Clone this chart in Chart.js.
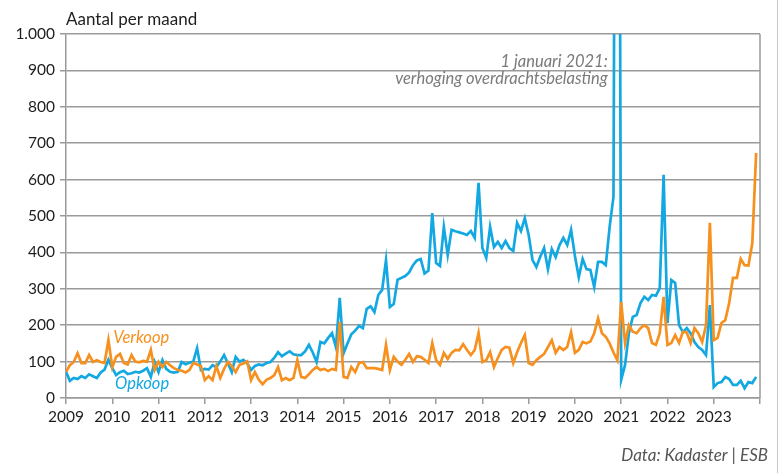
<!DOCTYPE html>
<html>
<head>
<meta charset="utf-8">
<script src="https://cdn.jsdelivr.net/npm/chart.js@4"></script>
<style>
  html, body { margin: 0; padding: 0; background: #fff; }
  canvas { display: block; }
</style>
</head>
<body>
<canvas id="grafiek" width="779" height="473"></canvas>
<script>
const jaren = [2009, 2010, 2011, 2012, 2013, 2014, 2015, 2016, 2017, 2018, 2019, 2020, 2021, 2022, 2023];
const yTicks = [0, 100, 200, 300, 400, 500, 600, 700, 800, 900, 1000];

// maandcijfers jan 2009 t/m dec 2023
const opkoop = [
  72, 47, 55, 52, 60, 55, 65, 60, 55, 70, 78, 105,
  82, 63, 71, 75, 66, 68, 72, 70, 75, 82, 58, 99,
  71, 104, 80, 72, 70, 72, 99, 93, 97, 100, 137, 77,
  80, 78, 90, 85, 100, 118, 95, 71, 113, 100, 105, 95,
  77, 88, 92, 90, 96, 99, 110, 126, 115, 122, 128, 120,
  118, 118, 128, 146, 125, 99, 154, 150, 165, 178, 140, 275,
  123, 150, 175, 185, 198, 192, 245, 252, 236, 283, 297, 379,
  250, 258, 325, 330, 335, 345, 365, 378, 382, 342, 350, 508,
  371, 363, 470, 393, 462, 458, 455, 452, 448, 459, 440, 591,
  412, 385, 470, 415, 429, 412, 431, 412, 404, 481, 459, 494,
  448, 379, 360, 388, 412, 354, 409, 387, 420, 440, 420, 462,
  390, 332, 382, 354, 352, 305, 374, 374, 365, 470, 553, 3500,
  50, 91, 178, 223, 228, 261, 278, 269, 283, 281, 302, 613,
  206, 324, 316, 200, 181, 192, 178, 154, 140, 132, 118, 255,
  30, 41, 44, 58, 52, 36, 36, 47, 27, 44, 41, 58
];

const verkoop = [
  72, 90, 99, 123, 96, 96, 118, 99, 104, 99, 96, 159,
  85, 113, 121, 96, 92, 118, 100, 98, 102, 100, 132, 77,
  100, 85, 99, 90, 82, 77, 75, 70, 77, 96, 92, 88,
  49, 60, 49, 88, 55, 80, 99, 88, 71, 91, 95, 101,
  49, 71, 50, 38, 50, 55, 62, 85, 49, 55, 49, 55,
  104, 58, 55, 65, 77, 85, 77, 80, 74, 80, 77, 209,
  58, 55, 85, 71, 96, 99, 82, 82, 82, 80, 77, 146,
  77, 113, 100, 91, 105, 121, 99, 115, 113, 105, 96, 151,
  104, 91, 124, 107, 124, 132, 131, 148, 132, 118, 132, 179,
  99, 104, 126, 85, 110, 132, 140, 138, 96, 126, 151, 173,
  96, 91, 104, 113, 121, 140, 159, 124, 140, 132, 140, 181,
  124, 132, 154, 150, 155, 178, 219, 178, 168, 150, 125, 104,
  264, 151, 200, 182, 178, 192, 200, 192, 151, 146, 178, 278,
  146, 151, 173, 151, 182, 180, 151, 192, 178, 154, 200, 481,
  159, 165, 206, 214, 261, 330, 330, 382, 365, 364, 425, 673
];

const blauw = '#13a8e2';
const oranje = '#f6901e';
const grijs = '#9a9a9a';
const lettertype = 'Lato, "Open Sans", sans-serif';

function naarPunten(reeks) {
  return reeks.map((v, i) => ({ x: jaren[0] + i / 12, y: v }));
}

const teksten = {
  id: 'teksten',
  afterDraw(chart) {
    const ctx = chart.ctx;
    const area = chart.chartArea;
    const x = chart.scales.x;
    const y = chart.scales.y;
    ctx.save();

    // rechterrand van het plotvlak
    ctx.strokeStyle = grijs;
    ctx.lineWidth = 1.5;
    ctx.beginPath();
    ctx.moveTo(area.right, area.top);
    ctx.lineTo(area.right, area.bottom);
    ctx.stroke();

    ctx.strokeStyle = '#c8c8c8';
    ctx.lineWidth = 1;
    ctx.beginPath();
    ctx.moveTo(777.5, 0);
    ctx.lineTo(777.5, 473);
    ctx.stroke();

    ctx.fillStyle = '#1e1e1e';
    ctx.font = '17px ' + lettertype;
    ctx.textAlign = 'left';
    ctx.textBaseline = 'alphabetic';
    ctx.fillText('Aantal per maand', area.left, 25);

    ctx.fillStyle = '#7a7a7a';
    ctx.font = 'italic 16.5px ' + lettertype;
    ctx.textAlign = 'right';
    ctx.fillText('1 januari 2021:', x.getPixelForValue(2020.71), y.getPixelForValue(910));
    ctx.fillText('verhoging overdrachtsbelasting', x.getPixelForValue(2020.71), y.getPixelForValue(862));

    ctx.textAlign = 'left';
    ctx.font = 'italic 16.5px ' + lettertype;
    ctx.fillStyle = oranje;
    ctx.fillText('Verkoop', x.getPixelForValue(2010.02), y.getPixelForValue(150));
    ctx.fillStyle = blauw;
    ctx.fillText('Opkoop', x.getPixelForValue(2010.06), y.getPixelForValue(24));

    ctx.fillStyle = '#555';
    ctx.font = 'italic 17px ' + lettertype;
    ctx.textAlign = 'right';
    ctx.fillText('Data: Kadaster | ESB', 768, 461);
    ctx.restore();
  }
};

new Chart(document.getElementById('grafiek').getContext('2d'), {
  type: 'line',
  data: {
    datasets: [
      {
        label: 'Opkoop',
        data: naarPunten(opkoop),
        borderColor: blauw,
        borderWidth: 2.7,
        pointRadius: 0,
        tension: 0,
        order: 1
      },
      {
        label: 'Verkoop',
        data: naarPunten(verkoop),
        borderColor: oranje,
        borderWidth: 2.7,
        pointRadius: 0,
        tension: 0,
        order: 0
      }
    ]
  },
  options: {
    responsive: false,
    animation: false,
    devicePixelRatio: 1,
    layout: { padding: { top: 34, right: 19, bottom: 0, left: 0 } },
    plugins: {
      legend: { display: false },
      tooltip: { enabled: false }
    },
    scales: {
      x: {
        type: 'linear',
        min: jaren[0],
        max: jaren[jaren.length - 1] + 1,
        afterFit(scale) { scale.height = 75; },
        afterBuildTicks(scale) {
          scale.ticks = jaren.concat([jaren[jaren.length - 1] + 1]).map(v => ({ value: v }));
        },
        ticks: {
          autoSkip: false,
          maxRotation: 0,
          padding: 4,
          color: '#1e1e1e',
          font: { family: lettertype, size: 15.5 },
          callback: v => jaren.includes(v) ? String(v) : ''
        },
        grid: {
          drawOnChartArea: false,
          drawTicks: true,
          tickLength: 6,
          color: grijs,
          lineWidth: 1.5
        },
        border: { display: true, color: grijs, width: 1.5 }
      },
      y: {
        min: 0,
        max: 1000,
        afterFit(scale) { scale.width = 66; },
        afterBuildTicks(scale) {
          scale.ticks = yTicks.map(v => ({ value: v }));
        },
        ticks: {
          padding: 5,
          color: '#1e1e1e',
          font: { family: lettertype, size: 15.5 },
          callback: v => v.toLocaleString('nl-NL')
        },
        grid: {
          color: grijs,
          lineWidth: 1.5,
          tickLength: 6
        },
        border: { display: true, color: grijs, width: 1.5 }
      }
    }
  },
  plugins: [teksten]
});
</script>
</body>
</html>
